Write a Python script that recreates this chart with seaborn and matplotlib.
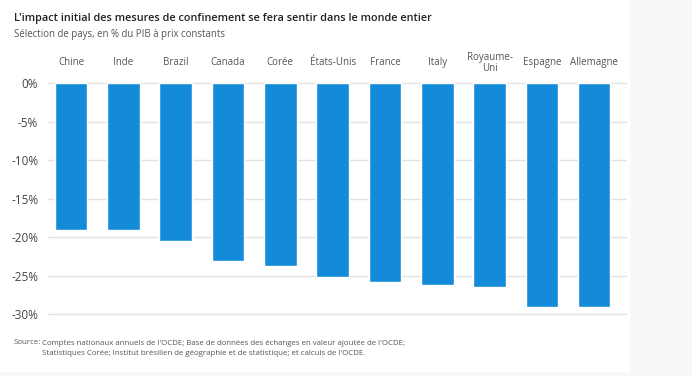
import matplotlib
matplotlib.use("Agg")
import matplotlib.pyplot as plt
import matplotlib.patches as patches
import seaborn as sns
import pandas as pd

# donnees (% du PIB a prix constants)
pays = ["Chine", "Inde", "Brazil", "Canada", "Corée", "États-Unis", "France",
        "Italy", "Royaume-\nUni", "Espagne", "Allemagne"]
impact = [-19.0, -19.0, -20.5, -23.1, -23.7, -25.2, -25.8, -26.2, -26.4, -29.1, -29.1]
graduations = [0, -5, -10, -15, -20, -25, -30]

titre = "L'impact initial des mesures de confinement se fera sentir dans le monde entier"
sous_titre = "Sélection de pays, en % du PIB à prix constants"
source = ("Comptes nationaux annuels de l'OCDE; Base de données des échanges en valeur ajoutée de l'OCDE;\n"
          "Statistiques Corée; Institut brésilien de géographie et de statistique; et calculs de l'OCDE.")

sns.set_theme(style="white")
plt.rcParams['font.family'] = ['Open Sans', 'DejaVu Sans']

df = pd.DataFrame({"pays": pays, "impact": impact})

fig = plt.figure(figsize=(6.92, 3.76), dpi=100)
fig.patch.set_facecolor("#f8f8f8")
# panneau blanc
fig.patches.append(patches.Rectangle((0, 4 / 376), 630 / 692, 372 / 376,
                                     transform=fig.transFigure, facecolor="white",
                                     edgecolor="none", zorder=-10))

ax = fig.add_axes([48 / 692, 1 - 317.4 / 376, (626.7 - 48) / 692, (317.4 - 80.2) / 376])
ax.set_facecolor("none")
sns.barplot(data=df, x="pays", y="impact", color="#148bd8", width=0.62,
            saturation=1, ax=ax, zorder=3)

ax.set_xlim(-0.44, 10.62)
ax.set_ylim(-30.4, 0.4)
ax.set_yticks(graduations)
ax.set_yticklabels([f"{g}%" for g in graduations], color="#444444", fontsize=8.5)
ax.yaxis.grid(True, color="#e3e3e3", linewidth=1, zorder=0)
ax.set_axisbelow(True)
ax.xaxis.grid(False)
ax.tick_params(axis="y", length=0, pad=7)

ax.xaxis.tick_top()
ax.tick_params(axis="x", length=0, pad=12.5)
for lab in ax.get_xticklabels():
    lab.set_va("center")
    lab.set_color("#555555")
    lab.set_fontsize(7)
    lab.set_linespacing(1.0)
ax.set_xlabel("")
ax.set_ylabel("")
for s in ax.spines.values():
    s.set_visible(False)

fig.text(14 / 692, 1 - 18 / 376, titre, fontsize=7.8, fontweight="semibold",
         color="#222222", va="center", ha="left")
fig.text(14 / 692, 1 - 35 / 376, sous_titre, fontsize=6.9, color="#555555",
         va="center", ha="left")
fig.text(14 / 692, 1 - 342 / 376, "Source:", fontsize=5.7, color="#555555",
         va="center", ha="left")
fig.text(42 / 692, 1 - 348.5 / 376, source, fontsize=5.7, color="#555555",
         va="center", ha="left", linespacing=1.65)

fig.savefig("out.png", dpi=100, facecolor=fig.get_facecolor())
